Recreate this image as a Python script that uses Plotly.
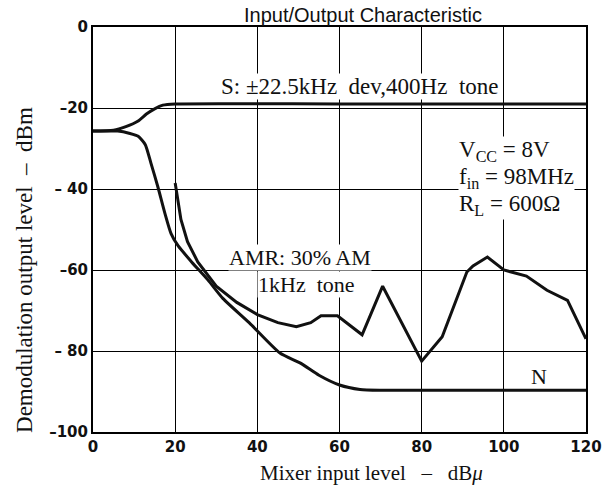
import plotly.graph_objects as go

# Data
s_x = [0, 5, 8, 11, 13, 15, 17, 20, 60, 120]
s_y = [-25.7, -25.5, -24.6, -23.2, -21.5, -20.2, -19.3, -19, -19, -19]

n_x = [0, 6, 9, 11, 12.7, 14.1, 15.8, 17.5, 19, 20.7, 24, 28, 31.6, 38, 45.5, 50.5, 55, 60, 65, 70, 120]
n_y = [-25.7, -25.7, -26.3, -27, -29, -33.6, -39.5, -46, -51, -54, -58, -62.5, -67, -73, -80.5, -83, -86, -88.4, -89.5, -89.7, -89.7]

amr_x = [20, 21.4, 23, 25.5, 30, 35, 40, 45, 49.5, 53, 55.5, 59.5, 65.5, 70.5, 80, 85, 91, 92.5, 96, 100, 105.5, 110.5, 115.5, 120]
amr_y = [-38.5, -47.5, -53, -58, -64, -68, -71, -73, -74, -73, -71.3, -71.3, -76, -64, -82.5, -76.5, -60.5, -59, -56.8, -60, -61.5, -65, -67.5, -77]

x_ticks = [0, 20, 40, 60, 80, 100, 120]
y_ticks = [0, -20, -40, -60, -80, -100]
y_tick_text = ["0", "–20", "– 40", "–60", "– 80", "–100"]

serif = "Liberation Serif"
sans = "Liberation Sans"
tickfam = "DejaVu Sans"

fig = go.Figure()
line = dict(color="#111111", width=3)
fig.add_trace(go.Scatter(x=s_x, y=s_y, mode="lines", line=dict(shape="spline", smoothing=0.6, **line), hoverinfo="skip"))
fig.add_trace(go.Scatter(x=n_x, y=n_y, mode="lines", line=dict(shape="spline", smoothing=0.6, **line), hoverinfo="skip"))
fig.add_trace(go.Scatter(x=amr_x, y=amr_y, mode="lines", line=line, hoverinfo="skip"))

big = dict(family=serif, size=23, color="#111111")
mid = dict(family=serif, size=22, color="#111111")
annotations = [
    dict(x=65, y=-14.8, text="S: ±22.5kHz  dev,400Hz  tone", xanchor="center", yanchor="middle", bgcolor="white", font=big),
    dict(x=88.9, y=-30.6, text="V<sub>CC</sub> = 8V", xanchor="left", yanchor="middle", bgcolor="white", font=big),
    dict(x=88.9, y=-37.3, text="f<sub>in</sub> = 98MHz", xanchor="left", yanchor="middle", bgcolor="white", font=big),
    dict(x=88.9, y=-44.0, text="R<sub>L</sub> = 600Ω", xanchor="left", yanchor="middle", bgcolor="white", font=big),
    dict(x=32.9, y=-57, text="AMR: 30% AM", xanchor="left", yanchor="middle", bgcolor="white", font=mid),
    dict(x=40, y=-63.7, text="1kHz  tone", xanchor="left", yanchor="middle", bgcolor="white", font=mid),
    dict(x=106.4, y=-86.4, text="N", xanchor="left", yanchor="middle", font=mid),
]
anns = []
for a in annotations:
    d = dict(xref="x", yref="y", showarrow=False, borderpad=0)
    d.update(a)
    anns.append(d)

anns.append(dict(xref="paper", yref="paper", x=0.548, y=1.0, text="Input/Output Characteristic",
                 showarrow=False, xanchor="center", yanchor="bottom", yshift=0, borderpad=0,
                 font=dict(family=sans, size=20, color="#111111")))
anns.append(dict(xref="paper", yref="paper", x=-0.14, y=0.40, text="Demodulation output level  –  dBm",
                 showarrow=False, textangle=-90, xanchor="center", yanchor="middle",
                 font=dict(family=serif, size=23, color="#111111")))
anns.append(dict(xref="paper", yref="paper", x=0.564, y=-0.101, text="Mixer input level   –   dB<i>μ</i>",
                 showarrow=False, xanchor="center", yanchor="middle",
                 font=dict(family=serif, size=21, color="#111111")))

fig.update_layout(
    width=613, height=491,
    margin=dict(l=93, r=27, t=27, b=59),
    paper_bgcolor="white", plot_bgcolor="white",
    showlegend=False,
    annotations=anns,
)
fig.update_xaxes(range=[0, 120], tickvals=x_ticks, showgrid=True, gridcolor="black", gridwidth=1,
                 zeroline=False, showline=True, linecolor="black", linewidth=2, mirror=True,
                 ticks="", tickfont=dict(family=tickfam, size=15, color="#111111", weight="bold"))
fig.update_yaxes(range=[-100, 0], tickvals=y_ticks, ticktext=y_tick_text, showgrid=True, gridcolor="black",
                 gridwidth=1, zeroline=False, showline=True, linecolor="black", linewidth=2, mirror=True,
                 ticks="", tickfont=dict(family=tickfam, size=15, color="#111111", weight="bold"))

# remove the browser's default 8px page margin so the 613x491 figure fills the window
fig.write_html("out.html", config={"displayModeBar": False},
               post_script="document.body.style.margin='0';")
